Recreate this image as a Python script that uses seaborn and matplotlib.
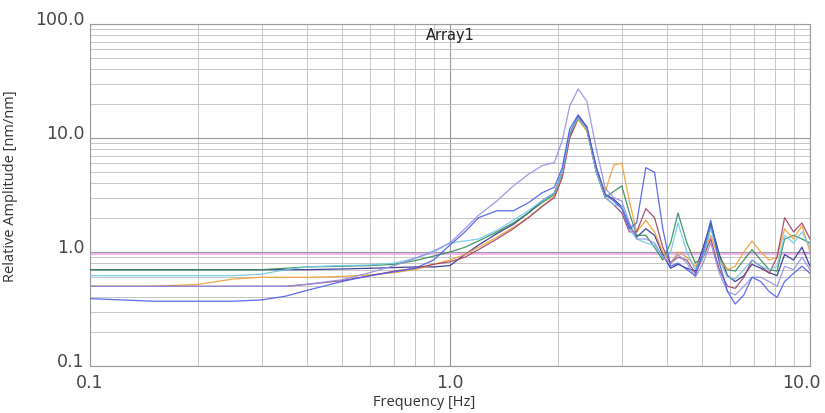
import numpy as np
import pandas as pd
import seaborn as sns
import matplotlib.pyplot as plt
from matplotlib import transforms as mtransforms
from matplotlib.ticker import LogLocator, FixedLocator, NullFormatter

# frequency grid [Hz]
freq = [0.10, 0.15, 0.20, 0.25, 0.30, 0.35, 0.40, 0.50, 0.60, 0.70,
        0.80, 0.90, 1.00, 1.10, 1.20, 1.35, 1.50, 1.65, 1.80, 1.95,
        2.05, 2.15, 2.27, 2.40, 2.55, 2.70, 2.85, 3.00, 3.15, 3.30,
        3.50, 3.70, 3.90, 4.10, 4.30, 4.55, 4.80, 5.05, 5.30, 5.60,
        5.90, 6.20, 6.55, 6.90, 7.30, 7.70, 8.10, 8.50, 9.00, 9.50, 10.0]

# relative amplitude per channel
navy = [0.70, 0.70, 0.70, 0.70, 0.70, 0.70, 0.70, 0.71, 0.72, 0.73,
        0.74, 0.74, 0.76, 0.95, 1.15, 1.45, 1.75, 2.2, 2.8, 3.3,
        5.0, 11.0, 15.5, 12.5, 5.5, 3.2, 2.9, 2.5, 1.7, 1.35,
        1.6, 1.4, 0.95, 0.72, 0.78, 0.72, 0.68, 1.1, 1.8, 0.95,
        0.62, 0.55, 0.62, 0.78, 0.72, 0.66, 0.62, 0.95, 0.85, 1.1, 0.75]
green = [0.70, 0.70, 0.70, 0.70, 0.70, 0.72, 0.74, 0.75, 0.76, 0.78,
         0.84, 0.92, 1.0, 1.1, 1.25, 1.5, 1.8, 2.2, 2.7, 3.2,
         5.0, 10.5, 15.0, 12.0, 5.0, 3.0, 3.4, 3.8, 2.2, 1.4,
         1.4, 1.1, 0.85, 1.2, 2.2, 1.2, 0.8, 0.9, 1.7, 0.9,
         0.7, 0.68, 0.85, 1.05, 0.85, 0.7, 0.68, 1.3, 1.4, 1.3, 1.2]
orange = [0.50, 0.50, 0.52, 0.58, 0.60, 0.60, 0.60, 0.61, 0.63, 0.66,
          0.70, 0.78, 0.85, 0.95, 1.1, 1.35, 1.65, 2.0, 2.5, 3.1,
          4.6, 10.0, 14.5, 11.5, 5.0, 3.4, 5.8, 6.0, 2.8, 1.5,
          1.9, 1.5, 1.0, 0.8, 1.0, 0.9, 0.75, 0.9, 1.4, 0.85,
          0.7, 0.75, 1.0, 1.25, 1.0, 0.85, 0.9, 1.6, 1.3, 1.7, 1.0]
maroon = [0.50, 0.50, 0.50, 0.50, 0.50, 0.50, 0.52, 0.56, 0.62, 0.68,
          0.72, 0.78, 0.82, 0.9, 1.05, 1.3, 1.6, 2.0, 2.5, 3.0,
          4.5, 10.0, 15.0, 12.0, 5.0, 3.0, 2.6, 2.2, 1.5, 1.5,
          2.4, 2.0, 1.1, 0.8, 0.9, 0.85, 0.65, 0.9, 1.3, 0.7,
          0.5, 0.48, 0.6, 0.85, 0.75, 0.65, 0.9, 2.0, 1.5, 1.8, 1.3]
blue = [0.39, 0.37, 0.37, 0.37, 0.38, 0.41, 0.46, 0.55, 0.62, 0.67,
        0.72, 0.85, 1.15, 1.5, 2.0, 2.3, 2.3, 2.7, 3.3, 3.7,
        5.5, 12.0, 16.0, 12.5, 5.5, 3.2, 2.8, 2.4, 1.6, 1.8,
        5.5, 5.0, 1.6, 0.75, 0.8, 0.7, 0.62, 1.0, 1.9, 0.8,
        0.45, 0.35, 0.42, 0.6, 0.55, 0.45, 0.4, 0.55, 0.65, 0.75, 0.65]
periwinkle = [0.50, 0.50, 0.50, 0.50, 0.50, 0.50, 0.52, 0.57, 0.66, 0.76,
              0.88, 1.02, 1.2, 1.6, 2.1, 2.8, 3.8, 4.8, 5.7, 6.1,
              9.5, 19.0, 27.0, 21.0, 8.0, 3.6, 3.0, 2.8, 1.8, 1.3,
              1.3, 1.2, 0.9, 0.8, 0.95, 0.8, 0.6, 0.8, 1.2, 0.65,
              0.45, 0.42, 0.5, 0.6, 0.6, 0.55, 0.5, 0.75, 0.7, 0.9, 0.7]
cyan = [0.62, 0.62, 0.62, 0.62, 0.64, 0.70, 0.74, 0.76, 0.77, 0.80,
        0.88, 1.0, 1.2, 1.25, 1.3, 1.55, 1.9, 2.3, 2.8, 3.3,
        5.0, 11.0, 15.0, 12.0, 5.0, 3.0, 2.6, 2.5, 1.6, 1.3,
        1.2, 1.15, 0.9, 1.0, 1.8, 1.0, 0.7, 0.9, 1.6, 0.85,
        0.6, 0.58, 0.7, 0.85, 0.75, 0.7, 0.75, 1.4, 1.2, 1.5, 1.1]
ref_level = 0.97

channels = {"navy": navy, "green": green, "orange": orange, "maroon": maroon,
            "cyan": cyan, "periwinkle": periwinkle, "blue": blue}
colors = {"navy": "#2b2f8f", "green": "#2e8b57", "orange": "#f0a030",
          "maroon": "#a0406a", "cyan": "#70c8e8", "periwinkle": "#9090e8",
          "blue": "#4a5cf0"}

df = pd.concat([pd.DataFrame({"freq": freq, "amp": v, "ch": k})
                for k, v in channels.items()], ignore_index=True)

sns.set_style("white")
plt.rcParams["font.family"] = ["DejaVu Sans"]

fig = plt.figure(figsize=(8.25, 4.14), dpi=100)
ax = fig.add_axes([90 / 825, 1 - 367 / 414, 720 / 825, 342 / 414])

ax.axhline(ref_level, color="#f0a8f0", lw=1.2, zorder=1)
sns.lineplot(data=df, x="freq", y="amp", hue="ch", palette=colors,
             lw=0.9, alpha=0.9, legend=False, ax=ax, zorder=3)

ax.set_xscale("log")
ax.set_yscale("log")
ax.set_xlim(0.1, 10)
ax.set_ylim(0.1, 100)

ax.xaxis.set_major_locator(FixedLocator([0.1, 1.0, 10.0]))
ax.yaxis.set_major_locator(FixedLocator([0.1, 1.0, 10.0, 100.0]))
ax.xaxis.set_minor_locator(LogLocator(base=10, subs=np.arange(2, 10)))
ax.yaxis.set_minor_locator(LogLocator(base=10, subs=np.arange(2, 10)))
ax.xaxis.set_minor_formatter(NullFormatter())
ax.yaxis.set_minor_formatter(NullFormatter())
ax.set_xticklabels(["0.1", "1.0", "10.0"])
ax.set_yticklabels(["0.1", "1.0", "10.0", "100.0"])

ax.grid(which="major", color="#999999", lw=0.8)
ax.grid(which="minor", color="#bdbdbd", lw=0.6)
ax.tick_params(which="both", length=0, labelsize=12.5, colors="#474747")
ax.tick_params(axis="x", pad=5)
ax.tick_params(axis="y", pad=4)
for s in ax.spines.values():
    s.set_color("#9a9a9a")
    s.set_linewidth(0.8)

for lab in ax.get_yticklabels():
    lab.set_va("baseline")
xl = ax.get_xticklabels()
xl[-1].set_transform(xl[-1].get_transform() +
                     mtransforms.ScaledTranslation(-0.09, 0, fig.dpi_scale_trans))

ax.set_xlabel("Frequency [Hz]", fontsize=10.5, color="#333333",
              family=["Open Sans", "DejaVu Sans"])
ax.set_ylabel("Relative Amplitude [nm/nm]", fontsize=10.5, color="#333333",
              family=["Open Sans", "DejaVu Sans"])
ax.xaxis.set_label_coords(0.464, -0.082)
ax.yaxis.set_label_coords(-0.1, 0.529)
ax.text(0.5, 0.99, "Array1", transform=ax.transAxes, ha="center", va="top",
        fontsize=10.5, color="#222222")

fig.savefig("out.png", dpi=100)
